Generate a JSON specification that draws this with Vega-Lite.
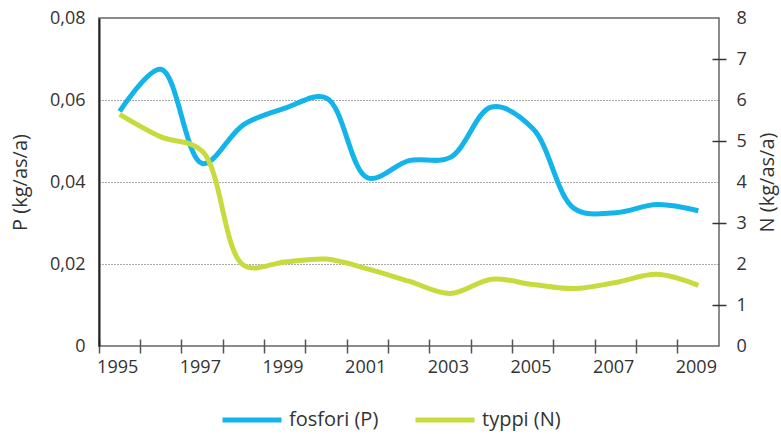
{
  "$schema": "https://vega.github.io/schema/vega-lite/v6.json",
  "width": 620,
  "height": 328,
  "autosize": {"type": "none"},
  "padding": {"left": 99, "top": 18, "right": 62, "bottom": 88},
  "config": {
    "font": "Open Sans",
    "view": {"stroke": "#666", "strokeWidth": 1.5},
    "axis": {"labelFont": "Open Sans", "titleFont": "Open Sans", "labelColor": "#333", "titleColor": "#333", "labelFontSize": 18, "titleFontSize": 20, "titleFontWeight": "normal"},
    "legend": {"labelFont": "Open Sans"}
  },
  "data": {
    "values": [
      {"year": 1995, "P": 0.0572, "N": 5.65},
      {"year": 1996, "P": 0.0675, "N": 5.1},
      {"year": 1997, "P": 0.0445, "N": 4.75},
      {"year": 1998, "P": 0.054, "N": 1.97},
      {"year": 1999, "P": 0.058, "N": 2.05},
      {"year": 2000, "P": 0.0605, "N": 2.12},
      {"year": 2001, "P": 0.041, "N": 1.88},
      {"year": 2002, "P": 0.0452, "N": 1.58},
      {"year": 2003, "P": 0.046, "N": 1.28},
      {"year": 2004, "P": 0.0583, "N": 1.63},
      {"year": 2005, "P": 0.053, "N": 1.5},
      {"year": 2006, "P": 0.0335, "N": 1.4},
      {"year": 2007, "P": 0.0325, "N": 1.55},
      {"year": 2008, "P": 0.0345, "N": 1.75},
      {"year": 2009, "P": 0.033, "N": 1.48}
    ]
  },
  "encoding": {
    "x": {
      "field": "year",
      "type": "ordinal",
      "bandPosition": 0.5,
      "scale": {"type": "band", "paddingInner": 0, "paddingOuter": 0},
      "axis": {
        "title": null,
        "bandPosition": 0,
        "offset": -7,
        "tickSize": 14,
        "tickColor": "#555",
        "tickWidth": 1.5,
        "domain": false,
        "grid": false,
        "labelAngle": 0,
        "labelOffset": -2,
        "labelPadding": 5,
        "labelOverlap": false,
        "labelFlush": false,
        "labelExpr": "datum.value % 2 == 1 ? datum.label : ''"
      }
    }
  },
  "layer": [
    {
      "mark": {"type": "line", "interpolate": "catmull-rom", "strokeWidth": 5},
      "encoding": {
        "y": {
          "field": "P",
          "type": "quantitative",
          "scale": {"domain": [0, 0.08], "nice": false},
          "axis": {
            "title": "P (kg/as/a)",
            "values": [0, 0.02, 0.04, 0.06, 0.08],
            "labelExpr": "datum.value == 0 ? '0' : replace(format(datum.value, '.2f'), '.', ',')",
            "tickSize": 0,
            "labelPadding": 14,
            "domainColor": "#222",
            "domainWidth": 2,
            "grid": true,
            "gridDash": [1, 2],
            "gridColor": "#555",
            "gridOpacity": {"condition": {"test": "datum.value > 0.001 && datum.value < 0.079", "value": 1}, "value": 0},
            "titlePadding": 19
          }
        },
        "color": {
          "datum": "fosfori (P)",
          "type": "nominal",
          "scale": {"domain": ["fosfori (P)", "typpi (N)"], "range": ["#12b4ea", "#c8db3e"]},
          "legend": {
            "orient": "none",
            "legendX": 121,
            "legendY": 370,
            "padding": 0,
            "direction": "horizontal",
            "title": null,
            "symbolType": "stroke",
            "symbolSize": 3481,
            "symbolStrokeWidth": 5,
            "labelFontSize": 20,
            "labelColor": "#333",
            "columnPadding": 26,
            "labelOffset": 5
          }
        }
      }
    },
    {
      "mark": {"type": "line", "interpolate": "catmull-rom", "strokeWidth": 5},
      "encoding": {
        "y": {
          "field": "N",
          "type": "quantitative",
          "scale": {"domain": [0, 8], "nice": false},
          "axis": {
            "orient": "right",
            "title": "N (kg/as/a)",
            "titleAngle": 270,
            "titleBaseline": "top",
            "values": [0, 1, 2, 3, 4, 5, 6, 7, 8],
            "offset": -7,
            "tickSize": 14,
            "tickColor": "#333",
            "tickWidth": 1.5,
            "tickOpacity": {"condition": {"test": "datum.value % 2 == 1", "value": 1}, "value": 0},
            "domain": false,
            "grid": false,
            "labelPadding": 10,
            "titlePadding": 11
          }
        },
        "color": {"datum": "typpi (N)", "type": "nominal"}
      }
    }
  ],
  "resolve": {"scale": {"y": "independent"}}
}
